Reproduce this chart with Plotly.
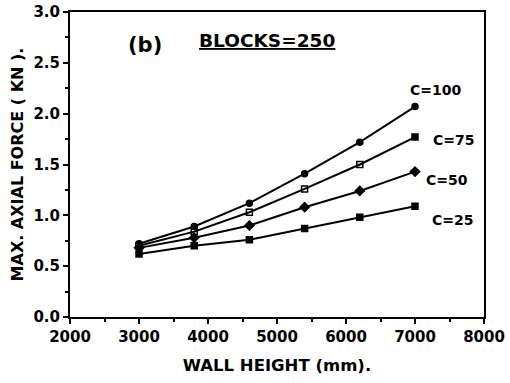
import plotly.graph_objects as go

heights = [3000, 3800, 4600, 5400, 6200, 7000]
c100 = [0.72, 0.89, 1.12, 1.41, 1.72, 2.07]
c75 = [0.70, 0.84, 1.03, 1.26, 1.50, 1.77]
c50 = [0.68, 0.78, 0.90, 1.08, 1.24, 1.43]
c25 = [0.62, 0.70, 0.76, 0.87, 0.98, 1.09]
series_names = ["C=100", "C=75", "C=50", "C=25"]
label_x = [7290, 7560, 7470, 7545]
label_y = [2.23, 1.74, 1.35, 0.95]

FONT = "DejaVu Sans"
fig = go.Figure()
specs = [
    (c100, "circle", 6),
    (c75, ["square-open"] * 5 + ["square"], 6),
    (c50, "diamond", 7),
    (c25, "square", 6),
]
for (vals, sym, sz), name in zip(specs, series_names):
    fig.add_trace(go.Scatter(
        x=heights, y=vals, mode="lines+markers", name=name,
        line=dict(color="black", width=2),
        marker=dict(symbol=sym, size=sz, color="black",
                    line=dict(color="black", width=1.5)),
        showlegend=False))

for name, lx, ly in zip(series_names, label_x, label_y):
    fig.add_annotation(x=lx, y=ly, text=f"<b>{name}</b>", showarrow=False,
                       font=dict(family=FONT, size=14, color="black"))

fig.add_annotation(x=3090, y=2.68, text="<b>(b)</b>", showarrow=False,
                   font=dict(family=FONT, size=21, color="black"))
fig.add_annotation(x=4848, y=2.72, text="<b>BLOCKS=250</b>", showarrow=False,
                   font=dict(family=FONT, size=18.5, color="black", lineposition="under"))

fig.update_layout(
    width=510, height=383,
    margin=dict(l=70, r=26, t=12, b=66, autoexpand=False),
    paper_bgcolor="white", plot_bgcolor="white",
    font=dict(family=FONT, color="black"),
)
fig.update_xaxes(
    range=[2000, 8000], dtick=1000, tick0=2000, automargin=False,
    showgrid=False, zeroline=False,
    showline=True, linecolor="black", linewidth=2, mirror=True,
    ticks="outside", ticklen=5, tickwidth=2, tickcolor="black",
    minor=dict(dtick=500, ticks="outside", ticklen=3, tickcolor="black", tickwidth=1.5),
    tickfont=dict(family=FONT, size=15, color="black", weight="bold"),
    title=dict(text="<b>WALL HEIGHT (mm).</b>", font=dict(family=FONT, size=16.5), standoff=14),
)
fig.update_yaxes(
    range=[0, 3.0], dtick=0.5, tick0=0, tickformat=".1f", automargin=False,
    showgrid=False, zeroline=False,
    showline=True, linecolor="black", linewidth=2, mirror=True,
    ticks="outside", ticklen=5, tickwidth=2, tickcolor="black",
    minor=dict(dtick=0.25, ticks="outside", ticklen=3, tickcolor="black", tickwidth=1.5),
    tickfont=dict(family=FONT, size=15, color="black", weight="bold"),
    title=dict(text="<b>MAX. AXIAL FORCE ( KN ).</b>", font=dict(family=FONT, size=16), standoff=6),
)

fig.write_html("out.html")
